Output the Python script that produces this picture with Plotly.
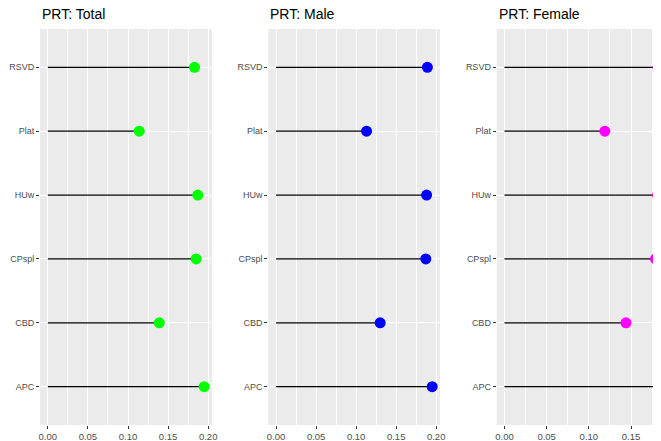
import plotly.graph_objects as go

categories = ["APC", "CBD", "CPspl", "HUw", "Plat", "RSVD"]
total_vals = [0.195, 0.139, 0.185, 0.187, 0.114, 0.183]
male_vals = [0.195, 0.130, 0.187, 0.188, 0.113, 0.189]
female_vals = [0.184, 0.144, 0.179, 0.1815, 0.119, 0.182]
titles = ["PRT: Total", "PRT: Male", "PRT: Female"]
colors = ["#00FF00", "#0000FF", "#FF00FF"]
x_tick_vals = [0.0, 0.05, 0.10, 0.15, 0.20]
x_tick_text = ["0.00", "0.05", "0.10", "0.15", "0.20"]

# the page body adds an 8px margin, so everything is shifted 8px up/left;
# the right panel runs past the visible window, as in the reference
OFF = 8
W, H = 661, 441 - OFF
panels_px = [(40 - OFF, 212 - OFF), (268.3 - OFF, 440 - OFF), (496.7 - OFF, 667.5 - OFF)]
y_top, y_bot = 29 - OFF, 425 - OFF

series = [total_vals, male_vals, female_vals]

fig = go.Figure()
font = "Liberation Sans, Arial, sans-serif"

for i, (vals, col, title, (x0, x1)) in enumerate(zip(series, colors, titles, panels_px)):
    n = i + 1
    xa = "x" if n == 1 else f"x{n}"
    ya = "y" if n == 1 else f"y{n}"
    lx, ly = [], []
    for c, v in zip(categories, vals):
        lx += [0, v, None]
        ly += [c, c, None]
    fig.add_trace(go.Scatter(x=lx, y=ly, mode="lines", line=dict(color="black", width=1.3),
                             xaxis=xa, yaxis=ya, showlegend=False, hoverinfo="skip"))
    fig.add_trace(go.Scatter(x=vals, y=categories, mode="markers",
                             marker=dict(color=col, size=11, line=dict(width=0)),
                             xaxis=xa, yaxis=ya, showlegend=False, cliponaxis=False))
    mx = max(vals)
    lo = -0.05 * mx
    hi = mx * 1.05
    xkey = "xaxis" if n == 1 else f"xaxis{n}"
    ykey = "yaxis" if n == 1 else f"yaxis{n}"
    fig.layout[xkey] = dict(
        domain=[x0 / W, min(x1 / W, 1.0)], range=[lo, hi], anchor=ya, automargin=False,
        tickvals=x_tick_vals, ticktext=x_tick_text,
        showgrid=True, gridcolor="white", gridwidth=1.1,
        minor=dict(dtick=0.025, tick0=0.025, showgrid=True, gridcolor="white", gridwidth=0.5),
        zeroline=False, showline=False,
        ticks="outside", ticklen=3, tickcolor="#333333", tickwidth=1,
        tickfont=dict(family=font, size=9.5, color="#4D4D4D"),
    )
    fig.layout[ykey] = dict(
        domain=[1 - y_bot / H, 1 - y_top / H], anchor=xa, automargin=False,
        type="category", categoryorder="array", categoryarray=categories,
        range=[-0.6, len(categories) - 0.4],
        showgrid=True, gridcolor="white", gridwidth=1.1,
        zeroline=False, showline=False,
        ticks="outside", ticklen=3, tickcolor="#333333", tickwidth=1,
        tickfont=dict(family=font, size=9, color="#4D4D4D"),
    )
    fig.add_annotation(text=title, x=x0 / W, y=1 - (24 - OFF) / H, xref="paper", yref="paper",
                       xanchor="left", yanchor="bottom", showarrow=False,
                       font=dict(family=font, size=14, color="black"))

fig.update_layout(
    template="none",
    width=W, height=H, margin=dict(l=0, r=0, t=0, b=0, autoexpand=False),
    paper_bgcolor="white", plot_bgcolor="#EBEBEB",
)

fig.write_html("out.html")
